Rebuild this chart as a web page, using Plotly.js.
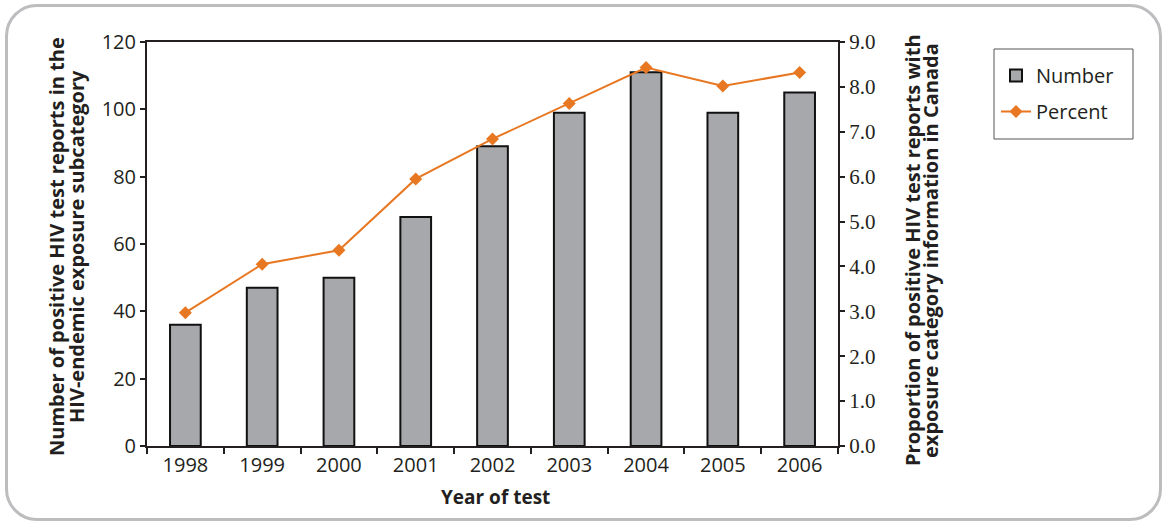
<!DOCTYPE html>
<html>
<head>
<meta charset="utf-8">
<script src="https://cdn.plot.ly/plotly-3.0.1.min.js"></script>
<style>
  html, body { margin: 0; padding: 0; background: #fff; }
  #wrap { position: relative; width: 1164px; height: 523px; }
  #chart { position: absolute; left: 0; top: 0; width: 1164px; height: 523px; }
  #frame { position: absolute; left: 5px; top: 4px; width: 1151px; height: 511px;
           border: 3px solid #bdbdc0; border-radius: 32px; pointer-events: none; }
</style>
</head>
<body>
<div id="wrap">
  <div id="chart"></div>
  <div id="frame"></div>
</div>
<script>
const years = ['1998','1999','2000','2001','2002','2003','2004','2005','2006'];
const numberVals = [36, 47, 50, 68, 89, 99, 111, 99, 105];
const percentVals = [2.97, 4.05, 4.36, 5.95, 6.84, 7.63, 8.43, 8.02, 8.32];
const leftTicks = [0, 20, 40, 60, 80, 100, 120];
const rightTicks = [0, 1, 2, 3, 4, 5, 6, 7, 8, 9];

const sans = 'Open Sans, Noto Sans, sans-serif';
const serif = 'Liberation Serif, DejaVu Serif, serif';
const ink = '#231f20';

const boundaries = [];
for (let i = 0; i <= years.length; i++) boundaries.push(i - 0.5);

// plot-area pixel geometry helpers (plot area: x 147..838, y 42..446)
const PX0 = 147, PW = 691, PY1 = 446, PH = 404;
const px = v => (v - PX0) / PW;
const py = v => (PY1 - v) / PH;

const traces = [
  {
    type: 'bar', name: 'Number', x: years, y: numberVals, legendgroup: 'g1',
    marker: { color: '#a7a8ab', line: { color: '#111', width: 2 } },
    xaxis: 'x', yaxis: 'y'
  },
  {
    type: 'scatter', mode: 'lines+markers', name: 'Percent', x: years, y: percentVals, legendgroup: 'g2',
    line: { color: '#e87722', width: 2 },
    marker: { symbol: 'diamond', size: 10, color: '#e87722' },
    xaxis: 'x', yaxis: 'y2'
  }
];

const layout = {
  width: 1164, height: 523,
  margin: { l: 147, r: 326, t: 42, b: 77 },
  paper_bgcolor: 'rgba(0,0,0,0)', plot_bgcolor: 'rgba(0,0,0,0)',
  showlegend: true,
  bargap: 0.6,
  font: { family: sans, color: ink, size: 19 },
  xaxis: {
    type: 'category', tickson: 'boundaries', ticks: 'outside', ticklen: 6, tickwidth: 2, tickcolor: ink,
    showline: true, linecolor: ink, linewidth: 2, mirror: true,
    showgrid: false, zeroline: false,
    tickfont: { family: sans, size: 20, color: ink },
    range: [-0.5, 8.5]
  },
  xaxis2: {
    overlaying: 'x', range: [-0.5, 8.5], tickvals: boundaries, ticks: 'inside', ticklen: 5, tickwidth: 2,
    tickcolor: ink, showticklabels: false, showline: false, showgrid: false, zeroline: false
  },
  yaxis: {
    range: [0, 120], tickvals: leftTicks, ticks: 'outside', ticklen: 5, tickwidth: 2, tickcolor: ink,
    showline: true, linecolor: ink, linewidth: 2, showgrid: false, zeroline: false,
    tickfont: { family: sans, size: 20, color: ink }
  },
  yaxis3: {
    overlaying: 'y', range: [0, 120], tickvals: leftTicks, ticks: 'inside', ticklen: 5, tickwidth: 2,
    tickcolor: ink, showticklabels: false, showline: false, showgrid: false, zeroline: false
  },
  yaxis2: {
    overlaying: 'y', side: 'right', range: [0, 9], tickvals: rightTicks, tickformat: '.1f',
    ticks: 'outside', ticklen: 5, tickwidth: 2, tickcolor: ink,
    showline: true, linecolor: ink, linewidth: 2, showgrid: false, zeroline: false,
    tickfont: { family: serif, size: 21, color: ink }
  },
  yaxis4: {
    overlaying: 'y', side: 'right', range: [0, 9], tickvals: rightTicks, ticks: 'inside', ticklen: 5, tickwidth: 2,
    tickcolor: ink, showticklabels: false, showline: false, showgrid: false, zeroline: false
  },
  legend: {
    x: px(996), y: py(56), xanchor: 'left', yanchor: 'top',
    bgcolor: 'rgba(0,0,0,0)', borderwidth: 0,
    font: { family: sans, size: 20, color: ink },
    tracegroupgap: 7
  },
  shapes: [
    { type: 'rect', xref: 'paper', yref: 'paper', x0: px(994), x1: px(1133), y0: py(139), y1: py(49),
      line: { color: '#555', width: 1 }, fillcolor: 'rgba(0,0,0,0)', layer: 'below' }
  ],
  annotations: [
    { text: 'Year of test', xref: 'paper', yref: 'paper', x: px(495), y: py(497),
      xanchor: 'center', yanchor: 'middle', showarrow: false,
      font: { family: sans, size: 19, color: ink, weight: 'bold' } },
    { text: 'Number of positive HIV test reports in the', xref: 'paper', yref: 'paper',
      x: px(56), y: py(247), textangle: -90,
      xanchor: 'center', yanchor: 'middle', showarrow: false,
      font: { family: sans, size: 20, color: ink, weight: 'bold' } },
    { text: 'HIV-endemic exposure subcategory', xref: 'paper', yref: 'paper',
      x: px(76), y: py(247), textangle: -90,
      xanchor: 'center', yanchor: 'middle', showarrow: false,
      font: { family: sans, size: 20, color: ink, weight: 'bold' } },
    { text: 'Proportion of positive HIV test reports with', xref: 'paper', yref: 'paper',
      x: px(912), y: py(250), textangle: -90,
      xanchor: 'center', yanchor: 'middle', showarrow: false,
      font: { family: sans, size: 20, color: ink, weight: 'bold' } },
    { text: 'exposure category information in Canada', xref: 'paper', yref: 'paper',
      x: px(930), y: py(251), textangle: -90,
      xanchor: 'center', yanchor: 'middle', showarrow: false,
      font: { family: sans, size: 20, color: ink, weight: 'bold' } }
  ]
};

Plotly.newPlot('chart', traces, layout, { displayModeBar: false, staticPlot: true });
</script>
</body>
</html>
